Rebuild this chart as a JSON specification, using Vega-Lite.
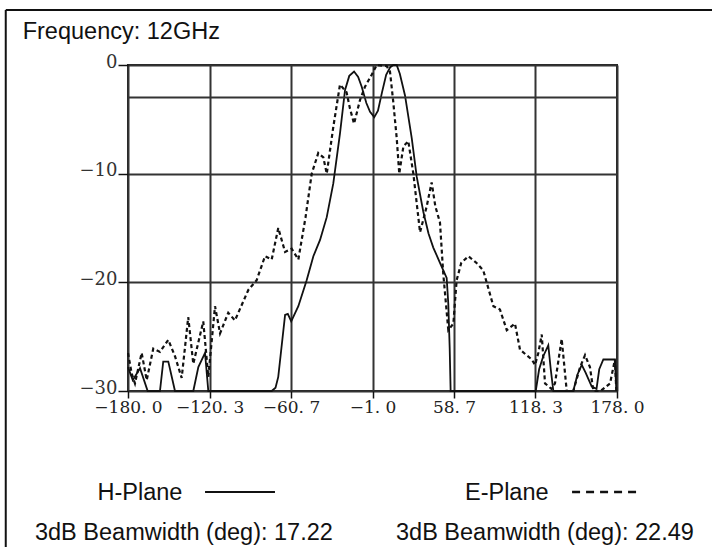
{
  "$schema": "https://vega.github.io/schema/vega-lite/v6.json",
  "autosize": {"type": "none"},
  "width": 489,
  "height": 326,
  "padding": {"left": 128, "top": 65, "right": 95, "bottom": 156},
  "background": "white",
  "config": {"view": {"stroke": "#222", "strokeWidth": 2}, "font": "Liberation Sans"},
  "data": {"values": [{}]},
  "datasets": {
    "hplane": [
      {"angle": -180, "gain": -27.8}, {"angle": -176.5, "gain": -29.0}, {"angle": -171.2, "gain": -27.9},
      {"angle": -165.6, "gain": -30}, {"angle": -156.6, "gain": -30}, {"angle": -154.2, "gain": -27.3},
      {"angle": -150.5, "gain": -27.3}, {"angle": -145.6, "gain": -30}, {"angle": -132.2, "gain": -30},
      {"angle": -128.5, "gain": -27.8}, {"angle": -123.6, "gain": -26.5}, {"angle": -121.2, "gain": -30},
      {"angle": -74.8, "gain": -30}, {"angle": -72, "gain": -29.7}, {"angle": -70, "gain": -28.7},
      {"angle": -65, "gain": -23.0}, {"angle": -63, "gain": -22.9}, {"angle": -60.5, "gain": -23.6},
      {"angle": -55.3, "gain": -22.2}, {"angle": -49.2, "gain": -19.8}, {"angle": -44.3, "gain": -17.6},
      {"angle": -39.4, "gain": -16.1}, {"angle": -34.5, "gain": -14.0}, {"angle": -29.7, "gain": -10.9},
      {"angle": -24.8, "gain": -6.3}, {"angle": -21.1, "gain": -2.3}, {"angle": -18, "gain": -1.0},
      {"angle": -14.5, "gain": -0.6}, {"angle": -11.5, "gain": -1.1}, {"angle": -8.9, "gain": -2.0},
      {"angle": -5.5, "gain": -3.5}, {"angle": -2.8, "gain": -4.3}, {"angle": 0.3, "gain": -4.8},
      {"angle": 3, "gain": -4.2}, {"angle": 6, "gain": -2.5}, {"angle": 9, "gain": -0.9},
      {"angle": 12, "gain": -0.2}, {"angle": 14.2, "gain": 0}, {"angle": 16.7, "gain": 0},
      {"angle": 19, "gain": -0.8}, {"angle": 22.8, "gain": -2.8}, {"angle": 27.7, "gain": -6.7},
      {"angle": 31.4, "gain": -10.3}, {"angle": 36.2, "gain": -13.5}, {"angle": 40, "gain": -15.5},
      {"angle": 43.5, "gain": -16.8}, {"angle": 48.4, "gain": -18.2}, {"angle": 53.3, "gain": -19.6},
      {"angle": 54.5, "gain": -22}, {"angle": 55.5, "gain": -26}, {"angle": 56.2, "gain": -30},
      {"angle": 118.5, "gain": -30}, {"angle": 121, "gain": -28}, {"angle": 124, "gain": -26.8},
      {"angle": 127.7, "gain": -25.8}, {"angle": 129.5, "gain": -28}, {"angle": 131.4, "gain": -30},
      {"angle": 146, "gain": -30}, {"angle": 149, "gain": -28.5}, {"angle": 152.2, "gain": -27.6},
      {"angle": 155, "gain": -28.3}, {"angle": 159.5, "gain": -29.6}, {"angle": 163, "gain": -29.8},
      {"angle": 165, "gain": -28}, {"angle": 168, "gain": -27.1}, {"angle": 176.5, "gain": -27.1},
      {"angle": 177.5, "gain": -30}
    ],
    "eplane": [
      {"angle": -180, "gain": -26.5}, {"angle": -177.3, "gain": -28.4}, {"angle": -174.9, "gain": -29.3},
      {"angle": -170, "gain": -26.5}, {"angle": -166.3, "gain": -29.0}, {"angle": -161.5, "gain": -26.1},
      {"angle": -156.6, "gain": -26.4}, {"angle": -150.5, "gain": -25.3}, {"angle": -145.6, "gain": -26.8},
      {"angle": -140.7, "gain": -28.8}, {"angle": -135.9, "gain": -23.2}, {"angle": -132.2, "gain": -27.5},
      {"angle": -124.9, "gain": -23.6}, {"angle": -121.2, "gain": -28.7}, {"angle": -116.3, "gain": -22.2},
      {"angle": -112.6, "gain": -24.7}, {"angle": -106.6, "gain": -22.8}, {"angle": -101.7, "gain": -23.5},
      {"angle": -91.9, "gain": -20.7}, {"angle": -85.8, "gain": -19.8}, {"angle": -79.7, "gain": -17.6},
      {"angle": -74.8, "gain": -17.9}, {"angle": -70, "gain": -15.0}, {"angle": -65, "gain": -17.2},
      {"angle": -60.2, "gain": -16.9}, {"angle": -55.3, "gain": -17.9}, {"angle": -50, "gain": -14},
      {"angle": -45.5, "gain": -10}, {"angle": -40.7, "gain": -8.1}, {"angle": -37, "gain": -8.5},
      {"angle": -34.5, "gain": -10}, {"angle": -29.7, "gain": -5.7}, {"angle": -24.8, "gain": -1.8},
      {"angle": -20, "gain": -2.5}, {"angle": -17.5, "gain": -4.0}, {"angle": -14.5, "gain": -5.4},
      {"angle": -10.1, "gain": -3.2}, {"angle": -6.5, "gain": -2.0}, {"angle": -1.6, "gain": -0.9},
      {"angle": 2.1, "gain": 0}, {"angle": 9.4, "gain": -0.1}, {"angle": 11.8, "gain": -0.6},
      {"angle": 14.2, "gain": -3.4}, {"angle": 16.7, "gain": -6.7}, {"angle": 18.6, "gain": -10},
      {"angle": 21.6, "gain": -7.5}, {"angle": 25.2, "gain": -7.0}, {"angle": 28.9, "gain": -10},
      {"angle": 33.8, "gain": -15.4}, {"angle": 38.7, "gain": -13}, {"angle": 42.3, "gain": -10.8},
      {"angle": 45, "gain": -13}, {"angle": 48.4, "gain": -14.5}, {"angle": 50.8, "gain": -19.2},
      {"angle": 54.5, "gain": -24.4}, {"angle": 58.2, "gain": -23.8}, {"angle": 60.6, "gain": -19.8},
      {"angle": 64, "gain": -18.2}, {"angle": 69.2, "gain": -17.6}, {"angle": 75, "gain": -18.2},
      {"angle": 80.1, "gain": -18.9}, {"angle": 87.5, "gain": -22.2}, {"angle": 92.3, "gain": -22.5},
      {"angle": 97.3, "gain": -24.4}, {"angle": 103.3, "gain": -23.8}, {"angle": 107, "gain": -26.2},
      {"angle": 115.6, "gain": -27.1}, {"angle": 118, "gain": -27.6}, {"angle": 120.4, "gain": -26.5},
      {"angle": 122.9, "gain": -24.8}, {"angle": 125.3, "gain": -29.3}, {"angle": 130, "gain": -29.8},
      {"angle": 132.6, "gain": -29.3}, {"angle": 137.5, "gain": -25.2}, {"angle": 141.2, "gain": -30},
      {"angle": 146, "gain": -30}, {"angle": 151, "gain": -27.8}, {"angle": 154.6, "gain": -26.7},
      {"angle": 158.2, "gain": -27.8}, {"angle": 160.7, "gain": -30}, {"angle": 166, "gain": -30},
      {"angle": 172.9, "gain": -29.3}, {"angle": 176.5, "gain": -27.1}, {"angle": 177.5, "gain": -30}
    ]
  },
  "layer": [
    {
      "data": {"name": "hplane"},
      "mark": {"type": "line", "color": "#111", "strokeWidth": 1.8},
      "encoding": {
        "x": {
          "field": "angle", "type": "quantitative",
          "scale": {"domain": [-180, 178], "nice": false, "zero": false},
          "axis": {
            "values": [-180, -120.3, -60.7, -1, 58.7, 118.3, 178],
            "labelExpr": "replace(replace(format(datum.value, '.1f'), '.', '. '), '-', '\u2212')",
            "labelFont": "DejaVu Serif", "labelFontSize": 17, "labelColor": "#222",
            "labelPadding": 1, "labelFlush": false, "labelOverlap": false,
            "tickSize": 7, "tickColor": "#111", "tickWidth": 1.5,
            "grid": true, "gridColor": "#333", "gridWidth": 2,
            "domain": false, "title": null
          }
        },
        "y": {
          "field": "gain", "type": "quantitative",
          "scale": {"domain": [-30, 0], "nice": false, "zero": false},
          "axis": {
            "values": [0, -10, -20, -30],
            "labelFont": "DejaVu Serif", "labelFontSize": 18, "labelColor": "#333",
            "labelPadding": 1, "labelOffset": -3, "labelFlush": false,
            "tickSize": 10, "tickColor": "#111", "tickWidth": 1.5,
            "grid": true, "gridColor": "#333", "gridWidth": 2,
            "domain": false, "title": null
          }
        }
      }
    },
    {
      "data": {"name": "eplane"},
      "mark": {"type": "line", "color": "#111", "strokeWidth": 2.2, "strokeDash": [4, 3]},
      "encoding": {
        "x": {"field": "angle", "type": "quantitative", "scale": {"domain": [-180, 178], "nice": false, "zero": false}},
        "y": {"field": "gain", "type": "quantitative", "scale": {"domain": [-30, 0], "nice": false, "zero": false}}
      }
    },
    {
      "mark": {"type": "rule", "color": "#333", "strokeWidth": 2},
      "encoding": {"y": {"datum": -3, "type": "quantitative"}}
    },
    {
      "mark": {"type": "text", "text": "Frequency: 12GHz", "align": "left", "baseline": "alphabetic", "fontSize": 23.5, "font": "Liberation Sans", "color": "#111"},
      "encoding": {"x": {"datum": -257.1, "type": "quantitative"}, "y": {"datum": 2.37, "type": "quantitative"}}
    },
    {
      "mark": {"type": "text", "text": "H-Plane", "align": "left", "baseline": "alphabetic", "fontSize": 23.5, "font": "Liberation Sans", "color": "#111"},
      "encoding": {"x": {"datum": -202.3, "type": "quantitative"}, "y": {"datum": -40.03, "type": "quantitative"}}
    },
    {
      "mark": {"type": "text", "text": "E-Plane", "align": "left", "baseline": "alphabetic", "fontSize": 23.5, "font": "Liberation Sans", "color": "#111"},
      "encoding": {"x": {"datum": 66.7, "type": "quantitative"}, "y": {"datum": -40.03, "type": "quantitative"}}
    },
    {
      "mark": {"type": "text", "text": "3dB Beamwidth (deg): 17.22", "align": "left", "baseline": "alphabetic", "fontSize": 23.5, "font": "Liberation Sans", "color": "#111"},
      "encoding": {"x": {"datum": -248.1, "type": "quantitative"}, "y": {"datum": -43.71, "type": "quantitative"}}
    },
    {
      "mark": {"type": "text", "text": "3dB Beamwidth (deg): 22.49", "align": "left", "baseline": "alphabetic", "fontSize": 23.5, "font": "Liberation Sans", "color": "#111"},
      "encoding": {"x": {"datum": 16.2, "type": "quantitative"}, "y": {"datum": -43.71, "type": "quantitative"}}
    },
    {
      "mark": {"type": "rule", "color": "#111", "strokeWidth": 2},
      "encoding": {"x": {"datum": -123.6, "type": "quantitative"}, "x2": {"datum": -72.4}, "y": {"datum": -39.29, "type": "quantitative"}}
    },
    {
      "mark": {"type": "rule", "color": "#111", "strokeWidth": 2.5, "strokeDash": [8, 6]},
      "encoding": {"x": {"datum": 145.1, "type": "quantitative"}, "x2": {"datum": 194.8}, "y": {"datum": -39.29, "type": "quantitative"}}
    },
    {
      "mark": {"type": "rule", "color": "#111", "strokeWidth": 2},
      "encoding": {"x": {"datum": -269.5, "type": "quantitative"}, "y": {"datum": 5.06, "type": "quantitative"}, "y2": {"datum": -46}}
    },
    {
      "mark": {"type": "rule", "color": "#111", "strokeWidth": 2},
      "encoding": {"x": {"datum": -269.5, "type": "quantitative"}, "x2": {"datum": 262}, "y": {"datum": 5.06, "type": "quantitative"}}
    }
  ]
}
